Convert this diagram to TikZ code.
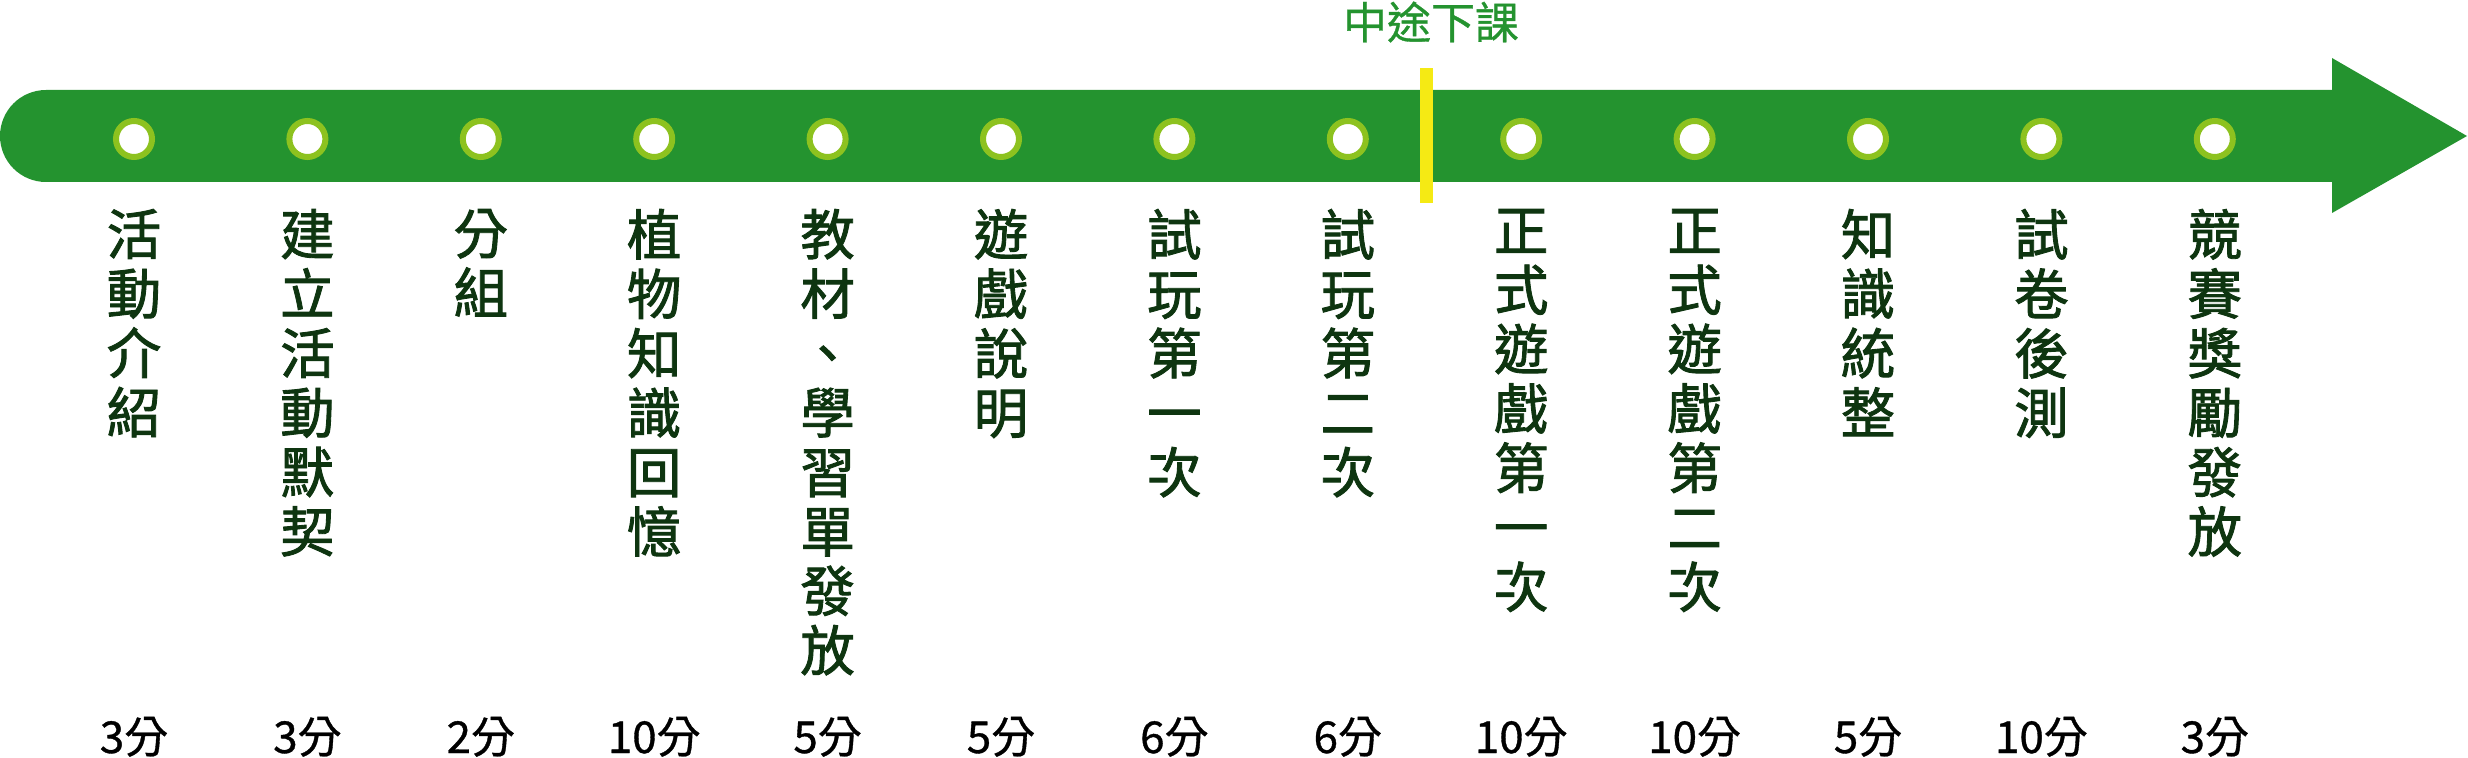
\documentclass[tikz,border=0pt]{standalone}
\usepackage{fontspec}
\setmainfont{Noto Sans CJK TC}
\newfontfamily\taskfont[FakeBold=1.6]{Noto Sans CJK TC}
\newfontfamily\minfont[FakeBold=0.8]{Noto Sans CJK TC}
\usetikzlibrary{positioning}
\definecolor{tlgreen}{HTML}{24932F}
\definecolor{tlring}{HTML}{8DC21F}
\definecolor{tlyellow}{HTML}{F5EA14}
\definecolor{tltext}{HTML}{0E3510}

\begin{document}
\begin{tikzpicture}[
    x=0.01cm, y=0.01cm,
    every node/.style={inner sep=0pt, outer sep=0pt},
    ring/.style={circle, draw=tlring, line width=0.06cm, fill=white, minimum size=0.36cm},
    tasklabel/.style={anchor=north, align=center, text=tltext, font=\taskfont\fontsize{15.5}{16.9}\selectfont},
    minlabel/.style={anchor=base, font=\minfont\fontsize{12.5}{14}\selectfont},
    breakbar/.style={fill=tlyellow, minimum width=0.13cm, minimum height=1.35cm}
]
    \useasboundingbox (0,0) rectangle (2468,757);

    % timeline arrow
    \fill[tlgreen] (46,575) arc (270:90:46) -- (2332,667) -- (2332,699)
        -- (2467,621) -- (2332,544) -- (2332,575) -- cycle;

    % steps
    \foreach \task/\mins [count=\i from 0] in {
        {活\\動\\介\\紹}/3分,
        {建\\立\\活\\動\\默\\契}/3分,
        {分\\組}/2分,
        {植\\物\\知\\識\\回\\憶}/10分,
        {教\\材\\、\\學\\習\\單\\發\\放}/5分,
        {遊\\戲\\說\\明}/5分,
        {試\\玩\\第\\一\\次}/6分,
        {試\\玩\\第\\二\\次}/6分,
        {正\\式\\遊\\戲\\第\\一\\次}/10分,
        {正\\式\\遊\\戲\\第\\二\\次}/10分,
        {知\\識\\統\\整}/5分,
        {試\\卷\\後\\測}/10分,
        {競\\賽\\獎\\勵\\發\\放}/3分}
    {
        \node[ring] (dot\i) at (134+173.4*\i, 618) {};
        \node[tasklabel, below=0.52cm of dot\i] (task\i) {\task};
        \node[minlabel] (time\i) at (134+173.4*\i, 4) {\mins};
    }

    % break
    \node[breakbar] (brkbar) at (1426.5, 621.5) {};
    \node[text=tlgreen, font=\minfont\fontsize{12.5}{14}\selectfont] (brk) at (1431, 735) {中途下課};
\end{tikzpicture}
\end{document}
